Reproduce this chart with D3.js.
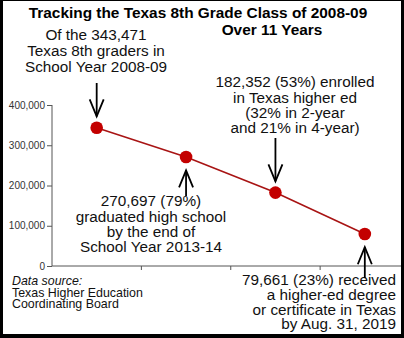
<!DOCTYPE html>
<html>
<head>
<meta charset="utf-8">
<script src="https://cdn.jsdelivr.net/npm/d3@7"></script>
<style>
  html, body { margin: 0; padding: 0; background: #fff; }
  svg { display: block; font-family: "Liberation Sans", Arial, Helvetica, sans-serif; }
</style>
</head>
<body>
<svg id="chart" width="404" height="338"></svg>
<script>
// Stages of the 2008-09 Texas 8th grade cohort
const stages = ["8th grade 2008-09", "HS graduation 2013-14", "Enrolled higher ed", "Degree or certificate 2019"];
const students = [343471, 270697, 182352, 79661];
const yTicks = [0, 100000, 200000, 300000, 400000];

const titleLines = ["Tracking the Texas 8th Grade Class of 2008-09", "Over 11 Years"];
const noteLines = [
  ["Of the 343,471", "Texas 8th graders in", "School Year 2008-09"],
  ["270,697 (79%)", "graduated high school", "by the end of", "School Year 2013-14"],
  ["182,352 (53%) enrolled", "in Texas higher ed", "(32% in 2-year", "and 21% in 4-year)"],
  ["79,661 (23%) received", "a higher-ed degree", "or certificate in Texas", "by Aug. 31, 2019"]
];
const sourceLines = ["Data source:", "Texas Higher Education", "Coordinating Board"];

const svg = d3.select("#chart");
const W = 404, H = 338;

// frame
svg.append("rect").attr("width", W).attr("height", H).attr("fill", "#000");
svg.append("rect").attr("x", 3).attr("y", 1).attr("width", 398).attr("height", 333).attr("fill", "#fff");

const x = d3.scaleBand().domain(stages).range([52, 409.5]);
const y = d3.scaleLinear().domain([0, 400000]).range([266, 105]);
const cx = d => x(d) + x.bandwidth() / 2;

// y axis
const yAxis = svg.append("g").attr("transform", "translate(52,0)")
  .call(d3.axisLeft(y).tickValues(yTicks).tickSize(5).tickPadding(2).tickFormat(d3.format(",")));
yAxis.select(".domain").attr("stroke", "#555").attr("d", "M0,105V266");
yAxis.selectAll(".tick line").attr("stroke", "#555");
yAxis.selectAll(".tick text").attr("fill", "#333").attr("font-size", "10px")
  .attr("font-family", "'Liberation Sans', Arial, sans-serif");

// x axis: baseline with ticks at the band edges
const xg = svg.append("g").attr("transform", "translate(0,266)");
xg.append("line").attr("x1", 52).attr("x2", 401).attr("stroke", "#555");
xg.selectAll("line.tk").data(stages.slice(1)).join("line").attr("class", "tk")
  .attr("x1", d => x(d)).attr("x2", d => x(d)).attr("y1", 0).attr("y2", 4).attr("stroke", "#555");

// trend line and points
const pts = stages.map((s, i) => ({ s, v: students[i] }));
svg.append("path").datum(pts)
  .attr("d", d3.line().x(d => cx(d.s)).y(d => y(d.v)))
  .attr("fill", "none").attr("stroke", "#a81414").attr("stroke-width", 1.6);
svg.selectAll("circle.pt").data(pts).join("circle").attr("class", "pt")
  .attr("cx", d => cx(d.s)).attr("cy", d => y(d.v)).attr("r", 6.3).attr("fill", "#c30000");

// title
svg.append("text").attr("x", 198).attr("y", 18).attr("text-anchor", "middle")
  .attr("font-weight", "bold").attr("font-size", "15.4px").text(titleLines[0]);
svg.append("text").attr("x", 272).attr("y", 35).attr("text-anchor", "middle")
  .attr("font-weight", "bold").attr("font-size", "15.4px").text(titleLines[1]);

// annotation blocks
function block(lines, xPos, baselines, anchor) {
  const t = svg.append("text").attr("font-size", "15.3px").attr("fill", "#111").attr("text-anchor", anchor);
  lines.forEach((l, i) => t.append("tspan").attr("x", xPos).attr("y", baselines[i]).text(l));
}
block(noteLines[0], 96, [40, 56, 72], "middle");
block(noteLines[1], 151, [206, 222, 237, 252], "middle");
block(noteLines[2], 295, [87, 102.5, 118, 133], "middle");
block(noteLines[3], 396, [285, 300, 314.5, 329], "end");

// arrows: shaft from a fixed start to a tip just off each point
function arrow(xPos, yStart, yTip) {
  const dir = yTip > yStart ? 1 : -1;
  const g = svg.append("g").attr("stroke", "#000").attr("stroke-width", 1.8).attr("fill", "none");
  g.append("line").attr("x1", xPos).attr("x2", xPos).attr("y1", yStart).attr("y2", yTip);
  g.append("path").attr("d", `M${xPos - 7},${yTip - dir * 17}L${xPos},${yTip}L${xPos + 7},${yTip - dir * 17}`);
}
const r = 6.3, gap = 5;
arrow(cx(stages[0]), 83, y(students[0]) - r - gap);
arrow(cx(stages[1]), 196, y(students[1]) + r + gap + 2);
arrow(cx(stages[2]), 138, y(students[2]) - r - gap);
arrow(cx(stages[3]), 278, y(students[3]) + r + gap + 2);

// source note
const src = svg.append("text").attr("font-size", "12.4px").attr("fill", "#111");
sourceLines.forEach((l, i) => src.append("tspan").attr("x", 12).attr("y", 285 + i * 11.5)
  .attr("font-style", i === 0 ? "italic" : "normal").text(l));
</script>
</body>
</html>
